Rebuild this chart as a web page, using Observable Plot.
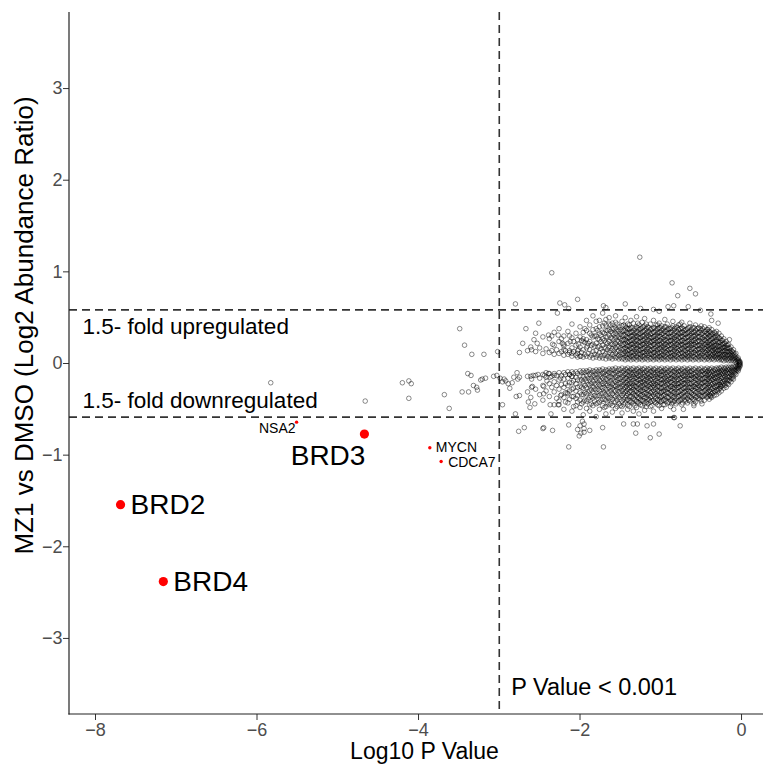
<!DOCTYPE html>
<html><head><meta charset="utf-8">
<script src="https://cdn.jsdelivr.net/npm/d3@7"></script>
<script src="https://cdn.jsdelivr.net/npm/@observablehq/plot@0.6"></script>
<style>
body{margin:0;background:#fff;}
svg{display:block;}
</style>
</head><body><div id="chart"></div>
<script>
// ---- data (Log10 P value, Log2 abundance ratio) ----
const scattered = [
[-5.83,-0.21],[-4.66,-0.41],[-4.20,-0.21],[-4.12,-0.19],[-4.09,-0.22],[-4.12,-0.38],[-3.68,-0.34],[-3.62,-0.49],
[-3.49,0.38],[-3.43,0.20],[-3.34,0.10],[-3.19,0.10],[-3.02,0.13],[-3.39,-0.11],[-3.35,-0.13],[-3.46,-0.31],[-3.38,-0.31],
[-3.32,-0.24],[-3.28,-0.26],[-3.27,-0.29],[-3.23,-0.18],[-3.21,-0.17],[-3.17,-0.16],[-3.07,-0.14],[-3.03,-0.13],[-2.99,-0.16],
[-2.96,-0.20],[-2.94,-0.17],[-2.92,-0.19],[-2.89,-0.22],[-2.87,-0.27],[-2.84,-0.21],[-2.82,-0.15],[-2.78,-0.10],[-2.77,-0.17],
[-2.79,-0.36],[-2.96,-0.45],[-2.80,-0.55],[-2.76,-0.74],[-2.69,-0.70],
[-2.61,-0.14],[-2.58,-0.13],[-2.52,-0.12],[-2.59,-0.25],[-2.64,-0.42],[-2.61,-0.37],[-2.56,-0.44],[-2.62,-0.48],[-2.45,-0.33],
[-2.45,-0.25],[-2.41,-0.19],[-2.44,-0.13],[-2.37,-0.15],[-2.39,-0.11],[-2.42,-0.10],[-2.32,-0.13],[-2.24,-0.16],
[-2.45,-0.70],[-2.34,-0.73],[-2.27,-0.45],[-2.36,-0.55],[-2.24,-0.35],[-2.16,-0.32],[-2.13,-0.12],[-2.10,-0.14],[-2.14,-0.67],
[-2.14,-0.91],[-2.00,-0.68],[-1.97,-0.63],[-1.95,-0.66],[-1.99,-0.76],[-2.01,-0.79],[-1.95,-0.75],[-1.71,-0.91],[-2.03,-0.72],
[-1.72,-0.70],[-1.88,-0.73],[-1.95,-0.71],[-2.46,-0.71],[-2.26,-0.45],[-2.37,-0.45],
[-1.46,-0.66],[-1.34,-0.66],[-1.31,-0.76],[-1.29,-0.66],[-1.17,-0.68],[-1.13,-0.81],[-1.09,-0.66],[-1.02,-0.77],[-0.76,-0.68],
[-0.84,-0.59],[-0.72,-0.50],[-0.59,-0.44],[-0.83,-0.59],[-0.84,-0.50],[-0.73,-0.43],[-0.59,-0.46],[-0.49,-0.44],[-0.38,-0.36],[-0.26,-0.25],
[-1.26,1.16],[-2.35,0.99],[-0.86,0.88],[-0.64,0.82],[-0.57,0.76],[-0.79,0.74],[-2.80,0.65],[-2.25,0.66],[-2.19,0.64],[-2.28,0.55],
[-2.14,0.60],[-2.03,0.70],[-1.71,0.63],[-1.68,0.61],[-1.44,0.65],[-1.25,0.60],[-1.09,0.59],[-1.02,0.57],[-0.91,0.62],[-0.84,0.63],
[-0.66,0.62],[-0.51,0.58],[-0.38,0.54],[-0.37,0.47],[-0.29,0.44],[-0.15,0.26],
[-2.51,0.44],[-2.67,0.38],[-2.71,0.22],[-2.61,0.18],[-2.57,0.26],[-2.53,0.22],[-2.39,0.31],[-2.27,0.31],[-2.22,0.22],[-2.20,0.21],
[-2.20,0.15],[-2.10,0.11],[-2.12,0.24],[-2.02,0.21],[-2.02,0.15],[-1.99,0.08],[-1.96,0.27],[-1.91,0.19],[-2.34,0.21],[-2.13,0.14],
[-2.03,0.14],[-2.03,0.07]
];
// dense core, first pass: each row = [log10 p, ratio, ratio, ...]
const coreCols = [
[-0.02,0.01,0.02,-0.01,-0.02,-0.03,0.00],
[-0.04,0.02,0.04,0.06,-0.02,-0.04,-0.06,-0.08],
[-0.07,0.02,0.05,0.08,0.11,-0.03,-0.06,-0.09,-0.12],
[-0.10,0.03,0.06,0.09,0.12,0.15,-0.03,-0.07,-0.10,-0.14,-0.17],
[-0.13,0.03,0.07,0.11,0.14,0.18,-0.04,-0.08,-0.12,-0.16,-0.20],
[-0.16,0.03,0.06,0.10,0.13,0.17,0.21,-0.04,-0.07,-0.11,-0.15,-0.19,-0.23],
[-0.19,0.04,0.08,0.12,0.16,0.20,0.24,-0.04,-0.08,-0.12,-0.17,-0.21,-0.26],
[-0.22,0.03,0.07,0.10,0.14,0.18,0.22,0.27,-0.05,-0.09,-0.13,-0.18,-0.22,-0.27],
[-0.25,0.04,0.08,0.12,0.16,0.20,0.25,0.30,-0.04,-0.08,-0.12,-0.16,-0.21,-0.25,-0.30],
[-0.28,0.04,0.07,0.11,0.15,0.19,0.23,0.28,0.33,-0.05,-0.09,-0.13,-0.18,-0.23,-0.28,-0.32],
[-0.31,0.05,0.09,0.13,0.17,0.21,0.26,0.31,0.35,-0.05,-0.10,-0.14,-0.19,-0.24,-0.29,-0.34],
[-0.34,0.04,0.08,0.12,0.16,0.20,0.24,0.29,0.34,-0.06,-0.11,-0.15,-0.20,-0.25,-0.30,-0.35],
[-0.37,0.05,0.09,0.14,0.18,0.22,0.27,0.32,0.37,-0.05,-0.09,-0.14,-0.18,-0.23,-0.28,-0.33,-0.37],
[-0.40,0.04,0.08,0.12,0.17,0.21,0.25,0.30,0.35,0.39,-0.06,-0.10,-0.15,-0.19,-0.24,-0.29,-0.34,-0.39],
[-0.43,0.05,0.10,0.14,0.19,0.23,0.28,0.33,0.37,-0.05,-0.09,-0.13,-0.17,-0.22,-0.27,-0.32,-0.37],
[-0.46,0.04,0.08,0.13,0.17,0.21,0.26,0.30,0.35,0.40,-0.06,-0.11,-0.16,-0.20,-0.25,-0.30,-0.35,-0.40],
[-0.50,0.05,0.09,0.13,0.18,0.22,0.27,0.32,0.36,0.41,-0.05,-0.09,-0.13,-0.18,-0.22,-0.27,-0.31,-0.36,-0.41],
[-0.53,0.04,0.08,0.12,0.16,0.20,0.25,0.29,0.34,0.39,-0.06,-0.10,-0.15,-0.19,-0.24,-0.28,-0.33,-0.38],
[-0.57,0.05,0.10,0.14,0.19,0.23,0.27,0.31,0.36,0.42,-0.05,-0.10,-0.14,-0.18,-0.23,-0.27,-0.32,-0.37,-0.42],
[-0.60,0.04,0.08,0.12,0.17,0.21,0.25,0.30,0.34,0.39,-0.06,-0.11,-0.15,-0.20,-0.25,-0.29,-0.34,-0.39],
[-0.64,0.05,0.09,0.13,0.18,0.22,0.26,0.31,0.35,0.40,0.44,-0.05,-0.09,-0.13,-0.17,-0.22,-0.26,-0.31,-0.36,-0.41],
[-0.67,0.04,0.08,0.12,0.16,0.20,0.24,0.29,0.33,0.38,-0.06,-0.10,-0.14,-0.19,-0.23,-0.28,-0.33,-0.38,-0.43],
[-0.71,0.05,0.09,0.14,0.18,0.23,0.27,0.32,0.36,0.41,-0.05,-0.09,-0.14,-0.18,-0.22,-0.27,-0.31,-0.36,-0.40],
[-0.74,0.04,0.08,0.12,0.17,0.21,0.25,0.30,0.34,0.39,0.45,-0.06,-0.11,-0.15,-0.20,-0.24,-0.29,-0.34,-0.39,-0.45],
[-0.78,0.05,0.10,0.14,0.19,0.23,0.28,0.32,0.37,0.42,-0.05,-0.09,-0.13,-0.18,-0.22,-0.26,-0.31,-0.36,-0.41],
[-0.81,0.04,0.08,0.13,0.17,0.21,0.26,0.30,0.35,0.40,-0.06,-0.10,-0.15,-0.19,-0.24,-0.28,-0.33,-0.38,-0.44],
[-0.85,0.05,0.09,0.13,0.18,0.22,0.27,0.31,0.36,0.41,0.46,-0.05,-0.09,-0.14,-0.18,-0.23,-0.27,-0.32,-0.37,-0.42],
[-0.88,0.04,0.08,0.12,0.16,0.21,0.25,0.29,0.34,0.38,-0.06,-0.11,-0.16,-0.20,-0.25,-0.29,-0.34,-0.40,-0.47],
[-0.92,0.05,0.10,0.14,0.19,0.23,0.28,0.33,0.37,0.43,-0.05,-0.10,-0.14,-0.19,-0.23,-0.28,-0.32,-0.37,-0.43],
[-0.95,0.04,0.08,0.13,0.17,0.21,0.26,0.30,0.35,0.40,0.48,-0.06,-0.10,-0.15,-0.19,-0.24,-0.29,-0.34,-0.39,-0.45],
[-0.99,0.05,0.09,0.13,0.18,0.22,0.27,0.32,0.36,0.41,-0.05,-0.09,-0.13,-0.18,-0.22,-0.27,-0.31,-0.36,-0.41,-0.49],
[-1.02,0.04,0.08,0.12,0.17,0.21,0.25,0.30,0.34,0.39,0.44,-0.06,-0.11,-0.15,-0.20,-0.25,-0.30,-0.35,-0.40,-0.46],
[-1.06,0.05,0.09,0.14,0.18,0.23,0.27,0.31,0.36,0.42,-0.05,-0.10,-0.14,-0.19,-0.23,-0.28,-0.33,-0.38,-0.43],
[-1.09,0.04,0.08,0.12,0.16,0.21,0.25,0.29,0.34,0.39,0.47,-0.06,-0.10,-0.15,-0.20,-0.24,-0.29,-0.34,-0.40,-0.52],
[-1.13,0.05,0.10,0.14,0.19,0.23,0.28,0.32,0.37,0.43,-0.05,-0.09,-0.14,-0.18,-0.23,-0.27,-0.32,-0.37,-0.42,-0.47],
[-1.16,0.04,0.09,0.13,0.17,0.22,0.26,0.31,0.35,0.40,-0.06,-0.11,-0.15,-0.19,-0.24,-0.29,-0.34,-0.39,-0.44],
[-1.20,0.05,0.09,0.13,0.18,0.22,0.27,0.31,0.36,0.41,0.49,-0.05,-0.10,-0.14,-0.19,-0.23,-0.28,-0.33,-0.38,-0.44,-0.51],
[-1.23,0.04,0.08,0.12,0.16,0.21,0.25,0.30,0.34,0.39,0.45,-0.06,-0.10,-0.15,-0.20,-0.24,-0.29,-0.34,-0.40,-0.46],
[-1.27,0.05,0.10,0.14,0.19,0.23,0.28,0.32,0.37,0.42,-0.05,-0.09,-0.14,-0.18,-0.23,-0.28,-0.33,-0.38,-0.43,-0.55],
[-1.30,0.04,0.08,0.13,0.17,0.21,0.26,0.30,0.35,0.40,0.51,-0.06,-0.11,-0.15,-0.20,-0.25,-0.30,-0.35,-0.41,-0.48],
[-1.34,0.05,0.09,0.13,0.18,0.22,0.27,0.31,0.36,0.44,-0.05,-0.10,-0.14,-0.19,-0.24,-0.28,-0.33,-0.38,-0.44,-0.52],
[-1.37,0.04,0.08,0.12,0.17,0.21,0.25,0.30,0.34,0.39,0.47,-0.06,-0.10,-0.15,-0.20,-0.25,-0.30,-0.36,-0.42],
[-1.41,0.05,0.10,0.14,0.19,0.23,0.28,0.33,0.38,0.43,-0.05,-0.09,-0.14,-0.19,-0.23,-0.28,-0.33,-0.39,-0.45,-0.50],
[-1.44,0.04,0.09,0.13,0.17,0.22,0.26,0.31,0.36,0.41,0.50,-0.06,-0.11,-0.16,-0.21,-0.26,-0.31,-0.37,-0.43],
[-1.48,0.05,0.10,0.15,0.20,0.25,0.30,0.35,0.41,0.46,-0.05,-0.10,-0.15,-0.20,-0.25,-0.30,-0.35,-0.41,-0.47,-0.54],
[-1.52,0.05,0.09,0.14,0.19,0.24,0.29,0.35,0.40,-0.06,-0.11,-0.16,-0.21,-0.26,-0.31,-0.37,-0.44],
[-1.56,0.06,0.11,0.17,0.22,0.28,0.33,0.39,0.45,0.52,-0.05,-0.10,-0.15,-0.20,-0.25,-0.30,-0.36,-0.42,-0.49],
[-1.60,0.05,0.10,0.16,0.21,0.27,0.33,0.38,0.44,-0.06,-0.11,-0.16,-0.22,-0.27,-0.33,-0.39,-0.46,-0.53],
[-1.64,0.06,0.12,0.18,0.24,0.31,0.37,0.43,0.50,-0.06,-0.10,-0.15,-0.21,-0.26,-0.32,-0.38,-0.45],
[-1.68,0.05,0.11,0.17,0.23,0.29,0.36,0.42,0.48,-0.07,-0.12,-0.17,-0.22,-0.28,-0.34,-0.40,-0.47,-0.55],
[-1.72,0.06,0.13,0.20,0.27,0.34,0.41,0.55,-0.06,-0.11,-0.16,-0.22,-0.27,-0.33,-0.39,-0.46],
[-1.76,0.06,0.12,0.19,0.26,0.33,0.40,0.47,-0.07,-0.12,-0.18,-0.23,-0.29,-0.35,-0.42,-0.50],
[-1.80,0.07,0.14,0.22,0.30,0.38,0.46,-0.07,-0.12,-0.17,-0.23,-0.29,-0.36,-0.44,-0.58],
[-1.84,0.06,0.13,0.21,0.29,0.37,0.52,-0.08,-0.13,-0.19,-0.25,-0.31,-0.38,-0.46],
[-1.88,0.07,0.15,0.24,0.33,0.42,-0.07,-0.12,-0.18,-0.24,-0.30,-0.37,-0.45,-0.52],
[-1.92,0.08,0.17,0.26,0.36,0.47,-0.08,-0.13,-0.19,-0.26,-0.33,-0.41,-0.49],
[-1.96,0.07,0.15,0.24,0.34,-0.08,-0.14,-0.20,-0.27,-0.34,-0.42,-0.56],
[-2.00,0.08,0.18,0.29,0.40,-0.08,-0.13,-0.19,-0.25,-0.32,-0.40,-0.48],
[-2.05,0.09,0.20,0.33,-0.09,-0.15,-0.22,-0.30,-0.38,-0.46],
[-2.10,0.08,0.17,0.28,0.43,-0.09,-0.14,-0.21,-0.28,-0.36,-0.52],
[-2.15,0.10,0.22,0.35,-0.09,-0.16,-0.24,-0.33,-0.43],
[-2.20,0.09,0.19,0.30,-0.10,-0.17,-0.26,-0.37,-0.50],
[-2.26,0.11,0.24,0.38,-0.10,-0.18,-0.28,-0.41],
[-2.32,0.10,0.20,0.34,-0.11,-0.20,-0.31,-0.45],
[-2.38,0.12,0.27,-0.11,-0.22,-0.36],
[-2.46,0.11,0.29,-0.12,-0.24,-0.40],
[-2.55,0.13,0.33,-0.13,-0.28],
[-2.65,0.14,-0.14,-0.31],
[-2.75,0.12,-0.15,-0.35]
];
// dense core, second pass (points lying between the first-pass ones)
const coreCols2 = [
[-0.03,0.01,0.03,-0.01,-0.05],
[-0.055,0.03,0.05,-0.03,-0.05,-0.07],
[-0.085,0.04,0.07,0.10,-0.04,-0.08,-0.11],
[-0.115,0.05,0.09,0.13,-0.05,-0.09,-0.13,-0.16],
[-0.145,0.05,0.09,0.12,0.16,-0.06,-0.10,-0.14,-0.18],
[-0.175,0.05,0.09,0.13,0.17,0.20,-0.06,-0.10,-0.14,-0.18,-0.22],
[-0.205,0.06,0.10,0.14,0.18,0.22,-0.06,-0.10,-0.15,-0.19,-0.24],
[-0.235,0.05,0.09,0.13,0.17,0.21,0.25,-0.07,-0.11,-0.15,-0.20,-0.24],
[-0.265,0.06,0.10,0.14,0.18,0.23,0.27,-0.06,-0.10,-0.14,-0.19,-0.23,-0.27],
[-0.295,0.06,0.10,0.14,0.19,0.24,0.29,-0.07,-0.11,-0.16,-0.20,-0.25,-0.30],
[-0.325,0.07,0.11,0.15,0.19,0.24,0.29,0.33,-0.07,-0.12,-0.16,-0.21,-0.26,-0.31],
[-0.355,0.06,0.10,0.14,0.18,0.23,0.27,0.32,-0.08,-0.13,-0.17,-0.22,-0.27,-0.32],
[-0.385,0.07,0.11,0.16,0.20,0.25,0.30,0.34,-0.07,-0.12,-0.16,-0.21,-0.26,-0.31,-0.35],
[-0.415,0.06,0.10,0.15,0.19,0.23,0.28,0.32,0.37,-0.08,-0.12,-0.17,-0.22,-0.26,-0.31,-0.36],
[-0.445,0.07,0.12,0.16,0.21,0.25,0.30,0.35,-0.07,-0.11,-0.15,-0.20,-0.24,-0.29,-0.34],
[-0.48,0.06,0.11,0.15,0.19,0.24,0.28,0.33,0.38,-0.08,-0.12,-0.17,-0.21,-0.26,-0.31,-0.36],
[-0.515,0.07,0.11,0.16,0.20,0.24,0.29,0.34,0.38,-0.07,-0.12,-0.16,-0.21,-0.25,-0.30,-0.35,-0.39],
[-0.55,0.06,0.10,0.15,0.19,0.24,0.29,0.33,0.38,-0.08,-0.13,-0.17,-0.22,-0.26,-0.31,-0.36],
[-0.585,0.07,0.12,0.16,0.21,0.25,0.30,0.34,0.39,-0.07,-0.12,-0.16,-0.21,-0.25,-0.30,-0.35,-0.40],
[-0.62,0.06,0.11,0.15,0.20,0.24,0.28,0.33,0.37,-0.08,-0.13,-0.17,-0.22,-0.27,-0.32,-0.37],
[-0.655,0.07,0.11,0.16,0.20,0.25,0.29,0.34,0.39,-0.07,-0.12,-0.16,-0.21,-0.26,-0.30,-0.35,-0.40],
[-0.69,0.06,0.10,0.14,0.19,0.23,0.28,0.32,0.37,-0.08,-0.12,-0.17,-0.21,-0.26,-0.30,-0.35,-0.41],
[-0.725,0.07,0.11,0.16,0.20,0.25,0.29,0.34,0.38,-0.07,-0.13,-0.17,-0.22,-0.27,-0.32,-0.37],
[-0.76,0.06,0.11,0.15,0.20,0.24,0.29,0.33,0.38,0.43,-0.08,-0.12,-0.16,-0.21,-0.25,-0.30,-0.35,-0.40],
[-0.795,0.07,0.12,0.16,0.21,0.25,0.30,0.34,0.39,-0.07,-0.12,-0.17,-0.22,-0.26,-0.31,-0.36,-0.42],
[-0.83,0.06,0.10,0.15,0.19,0.24,0.28,0.33,0.38,-0.08,-0.13,-0.17,-0.22,-0.26,-0.31,-0.36,-0.41],
[-0.865,0.07,0.11,0.16,0.20,0.25,0.29,0.34,0.39,-0.07,-0.12,-0.16,-0.21,-0.25,-0.30,-0.35,-0.40,-0.44],
[-0.90,0.06,0.11,0.15,0.20,0.24,0.29,0.33,0.38,-0.08,-0.13,-0.17,-0.22,-0.27,-0.32,-0.37,-0.42],
[-0.935,0.07,0.12,0.16,0.21,0.25,0.30,0.35,0.40,-0.07,-0.12,-0.17,-0.21,-0.26,-0.31,-0.36,-0.41],
[-0.97,0.06,0.10,0.15,0.19,0.24,0.28,0.33,0.38,-0.08,-0.12,-0.17,-0.21,-0.26,-0.30,-0.35,-0.40,-0.45],
[-1.005,0.07,0.11,0.16,0.20,0.25,0.29,0.34,0.39,-0.07,-0.13,-0.17,-0.22,-0.27,-0.32,-0.37,-0.42],
[-1.04,0.06,0.11,0.15,0.20,0.24,0.29,0.33,0.38,0.42,-0.08,-0.12,-0.16,-0.21,-0.25,-0.30,-0.35,-0.40,-0.45],
[-1.075,0.07,0.12,0.16,0.21,0.25,0.30,0.34,0.39,-0.07,-0.12,-0.17,-0.22,-0.26,-0.31,-0.36,-0.42],
[-1.11,0.06,0.10,0.15,0.19,0.24,0.28,0.33,0.38,-0.08,-0.13,-0.17,-0.22,-0.26,-0.31,-0.36,-0.41,-0.46],
[-1.145,0.07,0.11,0.16,0.20,0.25,0.29,0.34,0.39,-0.07,-0.12,-0.16,-0.21,-0.25,-0.30,-0.35,-0.40],
[-1.18,0.06,0.11,0.15,0.20,0.24,0.29,0.33,0.38,0.43,-0.08,-0.13,-0.17,-0.22,-0.27,-0.32,-0.37,-0.42,-0.47],
[-1.215,0.07,0.12,0.16,0.21,0.25,0.30,0.35,0.40,-0.07,-0.12,-0.17,-0.21,-0.26,-0.31,-0.36,-0.41],
[-1.25,0.06,0.10,0.15,0.19,0.24,0.28,0.33,0.38,-0.08,-0.12,-0.17,-0.21,-0.26,-0.30,-0.35,-0.40,-0.45],
[-1.285,0.07,0.11,0.16,0.20,0.25,0.29,0.34,0.39,0.44,-0.07,-0.13,-0.17,-0.22,-0.27,-0.32,-0.37,-0.42],
[-1.32,0.06,0.11,0.15,0.20,0.24,0.29,0.33,0.38,-0.08,-0.12,-0.16,-0.21,-0.25,-0.30,-0.35,-0.40,-0.46],
[-1.355,0.07,0.12,0.16,0.21,0.25,0.30,0.34,0.39,-0.07,-0.12,-0.17,-0.22,-0.26,-0.31,-0.36,-0.42],
[-1.39,0.06,0.10,0.15,0.19,0.24,0.28,0.33,0.38,0.42,-0.08,-0.13,-0.17,-0.22,-0.26,-0.31,-0.36,-0.41,-0.47],
[-1.425,0.07,0.11,0.16,0.20,0.25,0.29,0.34,0.39,-0.07,-0.12,-0.16,-0.21,-0.25,-0.30,-0.35,-0.40],
[-1.46,0.06,0.11,0.16,0.21,0.26,0.31,0.36,0.42,-0.08,-0.13,-0.18,-0.23,-0.28,-0.33,-0.39,-0.45],
[-1.50,0.07,0.12,0.17,0.22,0.27,0.32,0.37,-0.07,-0.12,-0.17,-0.22,-0.27,-0.33,-0.39,-0.46],
[-1.54,0.07,0.13,0.19,0.25,0.31,0.37,0.43,-0.08,-0.13,-0.18,-0.23,-0.28,-0.34,-0.40,-0.47],
[-1.58,0.08,0.14,0.20,0.26,0.32,0.38,-0.07,-0.12,-0.18,-0.24,-0.29,-0.35,-0.42],
[-1.62,0.07,0.14,0.21,0.28,0.35,0.42,-0.08,-0.14,-0.19,-0.25,-0.30,-0.37,-0.44],
[-1.66,0.08,0.15,0.22,0.29,0.36,-0.08,-0.13,-0.19,-0.24,-0.31,-0.37,-0.43],
[-1.70,0.09,0.17,0.25,0.33,0.44,-0.09,-0.14,-0.20,-0.26,-0.32,-0.39,-0.48],
[-1.74,0.08,0.16,0.24,0.31,-0.08,-0.14,-0.20,-0.26,-0.33,-0.40],
[-1.78,0.09,0.18,0.27,0.36,-0.09,-0.15,-0.21,-0.28,-0.35,-0.43],
[-1.82,0.10,0.19,0.30,-0.09,-0.15,-0.22,-0.28,-0.35,-0.41],
[-1.86,0.09,0.20,0.31,-0.10,-0.16,-0.22,-0.29,-0.36,-0.44],
[-1.90,0.11,0.22,-0.09,-0.16,-0.23,-0.31,-0.39],
[-1.94,0.10,0.23,0.38,-0.10,-0.17,-0.24,-0.32,-0.40],
[-1.98,0.12,0.25,-0.10,-0.18,-0.26,-0.34,-0.44],
[-2.03,0.11,0.26,-0.11,-0.18,-0.26,-0.35,-0.42],
[-2.08,0.13,0.24,-0.11,-0.19,-0.27,-0.36,-0.47],
[-2.13,0.12,0.30,-0.12,-0.21,-0.30,-0.39],
[-2.18,0.14,-0.12,-0.22,-0.32,-0.42],
[-2.23,0.13,0.27,-0.13,-0.23,-0.34],
[-2.29,0.15,-0.13,-0.24,-0.38],
[-2.35,0.14,0.30,-0.14,-0.26],
[-2.42,0.16,-0.15,-0.30],
[-2.50,0.17,-0.16,-0.34],
[-2.60,0.15,-0.17,-0.26]
];
const genes     = ["BRD2", "BRD4", "BRD3", "NSA2", "MYCN", "CDCA7"];
const geneLogP  = [-7.69, -7.16, -4.67, -5.51, -3.86, -3.72];
const geneRatio = [-1.54, -2.38, -0.77, -0.64, -0.92, -1.07];
const bigGenes  = ["BRD2", "BRD3", "BRD4"];
const foldLines = [0.585, -0.585];   // log2(1.5)
const pLine     = [-3];              // log10(0.001)
const xTicks    = [-8, -6, -4, -2, 0];
const yTicks    = [-3, -2, -1, 0, 1, 2, 3];
const xTitle    = "Log10 P Value";
const yTitle    = "MZ1 vs DMSO (Log2 Abundance Ratio)";
const upText    = "1.5- fold upregulated";
const downText  = "1.5- fold downregulated";
const pText     = "P Value < 0.001";

// ---- build tables ----
const unpack = cols => cols.flatMap(([x, ...ys]) => ys.map(y => ({x, y})));
const background = scattered.map(([x, y]) => ({x, y})).concat(unpack(coreCols), unpack(coreCols2));
const hits = genes.map((g, i) => ({gene: g, x: geneLogP[i], y: geneRatio[i], big: bigGenes.includes(g)}));

const FONT = "'Liberation Sans', Arial, Helvetica, sans-serif";
const dash = {stroke: "#333", strokeWidth: 1.6, strokeDasharray: "8,5"};

const axisLines = (index, scales, values, dims) => {
  const g = d3.create("svg:g").attr("stroke", "#222").attr("stroke-width", 1.2);
  const l = dims.marginLeft, t = dims.marginTop, b = dims.height - dims.marginBottom, r = dims.width - dims.marginRight;
  g.append("line").attr("x1", l).attr("x2", l).attr("y1", t).attr("y2", b + 0.6);
  g.append("line").attr("x1", l - 0.6).attr("x2", r).attr("y1", b).attr("y2", b);
  return g.node();
};

const chart = Plot.plot({
  width: 763, height: 765,
  marginLeft: 69, marginRight: 0, marginTop: 12, marginBottom: 51,
  style: {fontFamily: FONT, background: "white", overflow: "visible"},
  x: {domain: [-8.322, 0.272], label: null},
  y: {domain: [-3.83, 3.83], label: null},
  marks: [
    Plot.ruleY(foldLines, dash),
    Plot.ruleX(pLine, dash),
    Plot.dot(background, {x: "x", y: "y", r: 2.3, stroke: "black", strokeOpacity: 0.45, strokeWidth: 1, fill: "none"}),
    Plot.dot(hits, {filter: d => d.big, x: "x", y: "y", r: 4.6, fill: "#ff0000"}),
    Plot.dot(hits, {filter: d => !d.big, x: "x", y: "y", r: 1.7, fill: "#ff0000"}),
    // gene labels
    Plot.text(hits, {filter: d => d.gene === "BRD2" || d.gene === "BRD4", x: "x", y: "y", text: "gene", textAnchor: "start", dx: 10, fontSize: 28, fill: "black"}),
    Plot.text(hits, {filter: d => d.gene === "BRD3", x: "x", y: "y", text: "gene", textAnchor: "end", dx: 1, dy: 22, fontSize: 28, fill: "black"}),
    Plot.text(hits, {filter: d => d.gene === "NSA2", x: "x", y: "y", text: "gene", textAnchor: "end", dx: -1, dy: 6, fontSize: 14, fill: "black"}),
    Plot.text(hits, {filter: d => d.gene === "MYCN", x: "x", y: "y", text: "gene", textAnchor: "start", dx: 6, fontSize: 14, fill: "black"}),
    Plot.text(hits, {filter: d => d.gene === "CDCA7", x: "x", y: "y", text: "gene", textAnchor: "start", dx: 7, dy: 1, fontSize: 14, fill: "black"}),
    // annotations
    Plot.text([upText], {y: [foldLines[0]], frameAnchor: "left", textAnchor: "start", dx: 13, dy: 17, fontSize: 22.5, fill: "black"}),
    Plot.text([downText], {y: [foldLines[1]], frameAnchor: "left", textAnchor: "start", dx: 13, dy: -16, fontSize: 22.5, fill: "black"}),
    Plot.text([pText], {x: pLine, frameAnchor: "bottom", textAnchor: "start", dx: 12, dy: -20, fontSize: 23.5, fill: "black"}),
    // axes
    Plot.axisX({ticks: xTicks, tickSize: 6, tickPadding: 3, fontSize: 18, fill: "#4d4d4d", stroke: "#333", label: null}),
    Plot.axisY({ticks: yTicks, tickSize: 6, tickPadding: 1, fontSize: 18, fill: "#4d4d4d", stroke: "#333", label: null}),
    axisLines,
    Plot.text([xTitle], {frameAnchor: "bottom", textAnchor: "middle", dx: 8, dy: 44, fontSize: 23, fill: "black"}),
    Plot.text([yTitle], {frameAnchor: "left", textAnchor: "middle", rotate: -90, dx: -45, dy: -38, fontSize: 26, fill: "black"})
  ]
});
document.getElementById("chart").appendChild(chart);
</script>
</body></html>
